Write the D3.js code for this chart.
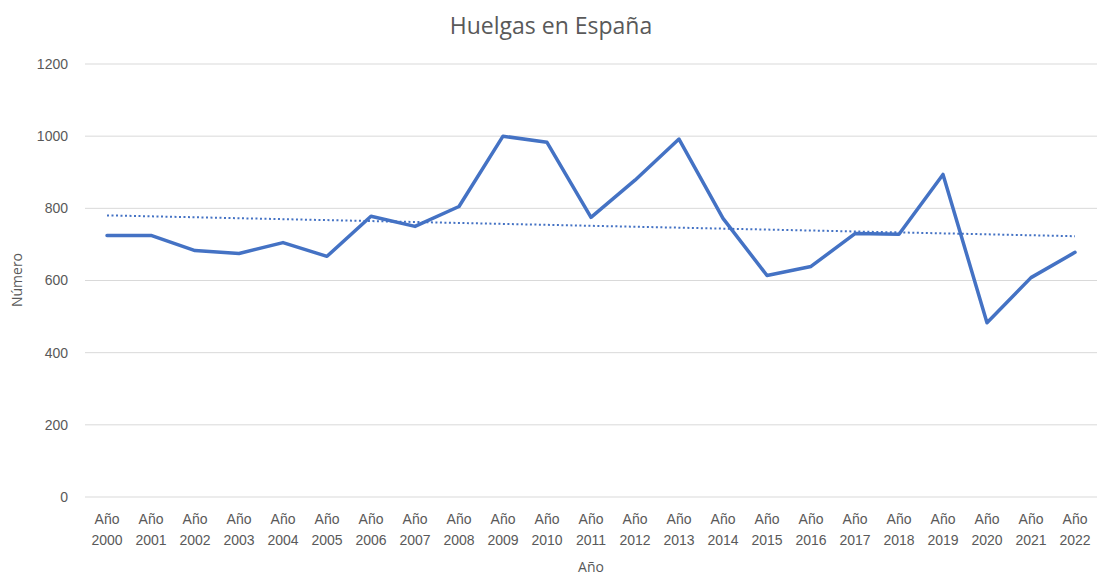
<!DOCTYPE html>
<html>
<head>
<meta charset="utf-8">
<script src="https://cdn.jsdelivr.net/npm/d3@7"></script>
<style>
  body { margin: 0; background: #fff; }
  svg { font-family: "Open Sans", "Liberation Sans", sans-serif; }
  .tick text { fill: #595959; font-size: 14px; }
</style>
</head>
<body>
<svg id="chart" width="1099" height="576"></svg>
<script>
'use strict';

// datos
var years = ["2000", "2001", "2002", "2003", "2004", "2005", "2006", "2007", "2008", "2009", "2010",
    "2011", "2012", "2013", "2014", "2015", "2016", "2017", "2018", "2019", "2020", "2021", "2022"];
var huelgas = [725, 725, 683, 675, 705, 667, 778, 750, 805, 1000, 983,
    775, 878, 992, 772, 614, 639, 730, 728, 894, 483, 608, 678];
var yTicks = [0, 200, 400, 600, 800, 1000, 1200];

var svg = d3.select("#chart");
var margin = {top: 64, right: 2, bottom: 79, left: 85};
var width = 1099 - margin.left - margin.right;
var height = 576 - margin.top - margin.bottom;

var x = d3.scaleBand().domain(years).range([0, width]);
var y = d3.scaleLinear().domain([0, 1200]).range([height, 0]);

var g = svg.append("g").attr("transform", "translate(" + margin.left + "," + margin.top + ")");

// rejilla
g.selectAll("line.grid")
    .data(yTicks)
    .enter()
    .append("line")
    .attr("class", "grid")
    .attr("x1", 0)
    .attr("x2", width)
    .attr("y1", function(d) { return y(d); })
    .attr("y2", function(d) { return y(d); })
    .style("stroke", "#d9d9d9")
    .style("stroke-width", 1);

var yAxis = g.append("g")
    .call(d3.axisLeft(y).tickValues(yTicks).tickSize(0).tickPadding(17).tickFormat(d3.format("d")));
yAxis.select(".domain").remove();

var xAxis = g.append("g")
    .attr("transform", "translate(0," + height + ")")
    .call(d3.axisBottom(x).tickSize(0).tickPadding(0).tickFormat(function() { return ""; }));
xAxis.select(".domain").remove();
xAxis.selectAll(".tick text").attr("dy", null).each(function(d) {
    var t = d3.select(this);
    t.append("tspan").attr("x", 0).attr("y", 27).text("Año");
    t.append("tspan").attr("x", 0).attr("y", 48).text(d);
});

// linea de tendencia (regresion lineal)
var n = huelgas.length;
var mx = d3.mean(huelgas, function(d, i) { return i; });
var my = d3.mean(huelgas);
var sxy = d3.sum(huelgas, function(d, i) { return (i - mx) * (d - my); });
var sxx = d3.sum(huelgas, function(d, i) { return (i - mx) * (i - mx); });
var slope = sxy / sxx;
var trend = [0, n - 1].map(function(i) { return {i: i, v: my + slope * (i - mx)}; });

var xi = function(i) { return x(years[i]) + x.bandwidth() / 2; };

g.append("path")
    .datum(trend)
    .attr("fill", "none")
    .attr("stroke", "#4472c4")
    .attr("stroke-width", 2)
    .attr("stroke-dasharray", "2,2.5")
    .attr("d", d3.line().x(function(d) { return xi(d.i); }).y(function(d) { return y(d.v); }));

g.append("path")
    .datum(huelgas)
    .attr("fill", "none")
    .attr("stroke", "#4472c4")
    .attr("stroke-width", 3.5)
    .attr("stroke-linejoin", "round")
    .attr("stroke-linecap", "round")
    .attr("d", d3.line().x(function(d, i) { return xi(i); }).y(function(d) { return y(d); }));

svg.append("text")
    .attr("x", 551)
    .attr("y", 34)
    .attr("text-anchor", "middle")
    .style("font-size", "23px")
    .style("fill", "#595959")
    .text("Huelgas en España");

svg.append("text")
    .attr("x", 591)
    .attr("y", 572)
    .attr("text-anchor", "middle")
    .style("font-size", "14px")
    .style("fill", "#595959")
    .text("Año");

svg.append("text")
    .attr("transform", "translate(22,280) rotate(-90)")
    .attr("text-anchor", "middle")
    .style("font-size", "14px")
    .style("fill", "#595959")
    .text("Número");
</script>
</body>
</html>
